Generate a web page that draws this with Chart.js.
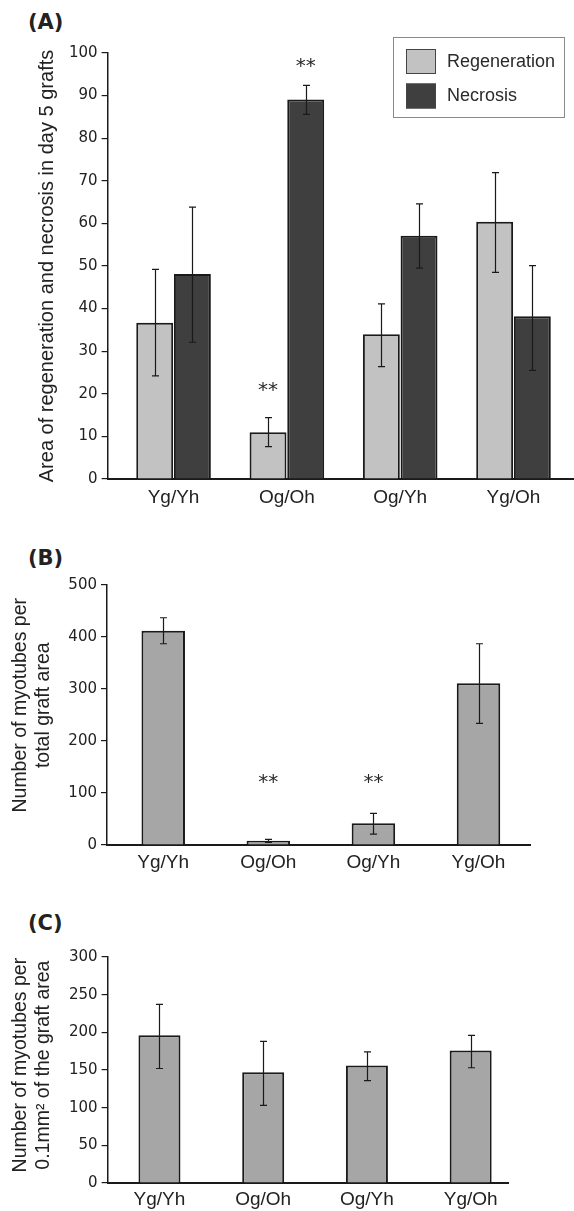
<!DOCTYPE html>
<html><head><meta charset="utf-8">
<script src="https://cdn.jsdelivr.net/npm/chart.js@4.4.1/dist/chart.umd.min.js"></script>
<style>
html,body{margin:0;padding:0;background:#fff;width:574px;height:1211px;overflow:hidden;}
.p{position:absolute;left:0;}
.lbl{position:absolute;font-family:"DejaVu Sans";font-weight:bold;font-size:21px;line-height:24px;color:#222;}
</style></head><body>
<div class="lbl" style="left:28px;top:10px">(A)</div>
<div class="lbl" style="left:28px;top:546px">(B)</div>
<div class="lbl" style="left:28px;top:911px">(C)</div>
<canvas id="cA" class="p" width="574" height="520" style="top:0"></canvas>
<canvas id="cB" class="p" width="574" height="370" style="top:510px"></canvas>
<canvas id="cC" class="p" width="574" height="331" style="top:880px"></canvas>
<script>
// ---- data ----
const categories = ['Yg/Yh', 'Og/Oh', 'Og/Yh', 'Yg/Oh'];
// (A) area of regeneration and necrosis
const regenMean    = [36.7, 11.0, 34.0, 60.4];
const regenErrLow  = [24.2, 7.6, 26.4, 48.5];
const regenErrHigh = [49.2, 14.4, 41.1, 71.9];
const necMean      = [48.1, 89.1, 57.1, 38.2];
const necErrLow    = [32.1, 85.6, 49.5, 25.5];
const necErrHigh   = [63.8, 92.4, 64.6, 50.1];
const sigA = [{dataset: 0, index: 1, value: 21.7}, {dataset: 1, index: 1, value: 97.6}];
// (B) myotubes per total graft area
const totalMean    = [412, 8, 42, 311];
const totalErrLow  = [387, 5, 21, 234];
const totalErrHigh = [437, 11, 61, 387];
const sigB = [{dataset: 0, index: 1, value: 127}, {dataset: 0, index: 2, value: 127}];
// (C) myotubes per 0.1 mm2
const densMean     = [196, 147, 156, 176];
const densErrLow   = [152, 103, 136, 153];
const densErrHigh  = [237, 188, 174, 196];

const TXT = '#222';

const errorBars = {
  id: 'errorBars',
  afterDatasetsDraw(chart) {
    const ctx = chart.ctx, ys = chart.scales.y;
    chart.data.datasets.forEach((ds, di) => {
      if (!ds.errLow) return;
      chart.getDatasetMeta(di).data.forEach((bar, i) => {
        const x = Math.round(bar.x) + 0.5;
        const yl = ys.getPixelForValue(ds.errLow[i]);
        const yh = ys.getPixelForValue(ds.errHigh[i]);
        ctx.save();
        ctx.strokeStyle = '#1a1a1a';
        ctx.lineWidth = 1.2;
        ctx.beginPath();
        ctx.moveTo(x, yl); ctx.lineTo(x, yh);
        ctx.moveTo(x - 3.5, yl); ctx.lineTo(x + 3.5, yl);
        ctx.moveTo(x - 3.5, yh); ctx.lineTo(x + 3.5, yh);
        ctx.stroke();
        ctx.restore();
      });
    });
  }
};

const stars = {
  id: 'stars',
  afterDatasetsDraw(chart, args, opts) {
    if (!opts.marks) return;
    const ctx = chart.ctx, ys = chart.scales.y;
    ctx.save();
    ctx.fillStyle = '#2a2a2a';
    ctx.font = '20px "DejaVu Sans"';
    ctx.textAlign = 'center';
    ctx.textBaseline = 'middle';
    opts.marks.forEach(m => {
      const bar = chart.getDatasetMeta(m.dataset).data[m.index];
      ctx.fillText('**', bar.x, ys.getPixelForValue(m.value) + 4);
    });
    ctx.restore();
  }
};

const boxLegend = {
  id: 'boxLegend',
  afterDraw(chart, args, o) {
    if (!o.show) return;
    const ctx = chart.ctx;
    ctx.save();
    ctx.strokeStyle = '#8a8a8a';
    ctx.lineWidth = 1;
    ctx.strokeRect(o.x + 0.5, o.y + 0.5, o.w, o.h);
    ctx.font = '18px "Liberation Sans"';
    ctx.textBaseline = 'middle';
    ctx.textAlign = 'left';
    chart.data.datasets.forEach((ds, i) => {
      const sy = o.y + 12 + i * 34.5;
      ctx.fillStyle = ds.backgroundColor;
      ctx.fillRect(o.x + 13, sy, 30, 25);
      ctx.strokeStyle = '#444';
      ctx.lineWidth = 1;
      ctx.strokeRect(o.x + 13.5, sy + 0.5, 29, 24);
      ctx.fillStyle = '#2a2a2a';
      ctx.fillText(ds.label, o.x + 54, sy + 13);
    });
    ctx.restore();
  }
};

function xScale(min, max, height, pad) {
  return {
    type: 'linear', min: min, max: max, offset: false, bounds: 'ticks',
    afterBuildTicks: s => { s.ticks = categories.map((c, i) => ({value: i})); },
    afterFit: s => { s.height = height; },
    ticks: {
      callback: v => categories[v],
      font: {family: 'Liberation Sans', size: 19},
      color: TXT, padding: pad, autoSkip: false, maxRotation: 0
    },
    grid: {display: false, drawTicks: false},
    border: {display: true, color: '#1a1a1a', width: 2}
  };
}

function yScale(max, step, width, title, titlePad, size, lh) {
  return {
    min: 0, max: max,
    afterFit: s => { s.width = width; },
    ticks: {stepSize: step, font: {family: 'DejaVu Sans', size: 15}, color: TXT, padding: 4},
    grid: {drawOnChartArea: false, drawTicks: true, tickLength: 6, color: '#1a1a1a', lineWidth: 1.2},
    border: {display: true, color: '#1a1a1a', width: 1.5},
    title: {display: true, text: title, color: TXT,
            font: {family: 'Liberation Sans', size: size, lineHeight: lh},
            padding: {top: titlePad, bottom: 0}}
  };
}

const common = (padding) => ({
  responsive: false, animation: false, devicePixelRatio: 1,
  layout: {padding: padding},
  events: []
});

function pts(arr) { return arr.map((v, i) => ({x: i, y: v})); }

// (A)
new Chart(document.getElementById('cA'), {
  type: 'bar',
  data: {
    datasets: [
      {label: 'Regeneration', data: pts(regenMean), errLow: regenErrLow, errHigh: regenErrHigh,
       backgroundColor: '#c2c2c2', borderColor: '#1a1a1a', borderWidth: 2,
       barPercentage: 0.98, categoryPercentage: 0.665},
      {label: 'Necrosis', data: pts(necMean), errLow: necErrLow, errHigh: necErrHigh,
       backgroundColor: '#3f3f3f', borderColor: '#1a1a1a', borderWidth: 2,
       barPercentage: 0.98, categoryPercentage: 0.665}
    ]
  },
  options: Object.assign(common({top: 53, right: 1, bottom: 0, left: 0}), {
    scales: {
      x: xScale(-0.582, 3.525, 41, 7),
      y: yScale(100, 10, 107.6, 'Area of regeneration and necrosis in day 5 grafts', 37, 20, 1.0)
    },
    plugins: {
      legend: {display: false}, tooltip: {enabled: false},
      stars: {marks: sigA},
      boxLegend: {show: true, x: 393, y: 37, w: 171, h: 80}
    }
  }),
  plugins: [errorBars, stars, boxLegend]
});

// (B)
new Chart(document.getElementById('cB'), {
  type: 'bar',
  data: {
    datasets: [
      {label: 'Myotubes', data: pts(totalMean), errLow: totalErrLow, errHigh: totalErrHigh,
       backgroundColor: '#a6a6a6', borderColor: '#1a1a1a', borderWidth: 2,
       barPercentage: 1, categoryPercentage: 0.414}
    ]
  },
  options: Object.assign(common({top: 75, right: 44, bottom: 0, left: 0}), {
    scales: {
      x: xScale(-0.535, 3.49, 35, 6),
      y: yScale(500, 100, 107, ['\u2002\u2002Number of myotubes per', '\u2002\u2002total graft area'], 9, 19.5, 1.2)
    },
    plugins: {
      legend: {display: false}, tooltip: {enabled: false},
      stars: {marks: sigB},
      boxLegend: {show: false}
    }
  }),
  plugins: [errorBars, stars, boxLegend]
});

// (C)
new Chart(document.getElementById('cC'), {
  type: 'bar',
  data: {
    datasets: [
      {label: 'Myotubes', data: pts(densMean), errLow: densErrLow, errHigh: densErrHigh,
       backgroundColor: '#a6a6a6', borderColor: '#1a1a1a', borderWidth: 2,
       barPercentage: 1, categoryPercentage: 0.405}
    ]
  },
  options: Object.assign(common({top: 77, right: 66, bottom: 0, left: 0}), {
    scales: {
      x: xScale(-0.50, 3.36, 28, 5),
      y: yScale(300, 50, 107.6, ['\u2002Number of myotubes per', '\u20020.1mm\u00B2 of the graft area'], 9, 19.5, 1.2)
    },
    plugins: {
      legend: {display: false}, tooltip: {enabled: false},
      stars: {marks: []},
      boxLegend: {show: false}
    }
  }),
  plugins: [errorBars, stars, boxLegend]
});
</script>
</body></html>
